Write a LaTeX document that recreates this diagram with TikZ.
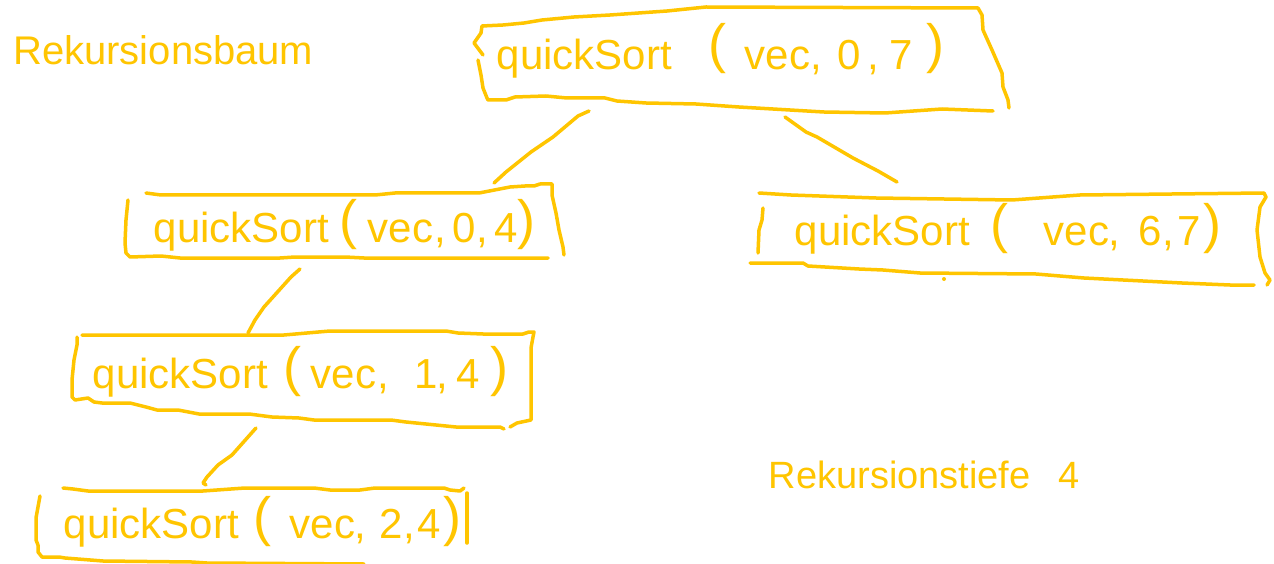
\documentclass[tikz,border=0pt]{standalone}
\usepackage{fontspec}
\setmainfont{Liberation Sans}
\definecolor{pen}{RGB}{255,197,0}
\newcommand\tk[2]{\makebox[0pt][l]{\hspace{#1pt}#2}}
\newcommand\pn[2]{\raisebox{#1pt}{\fontsize{54}{60}\selectfont #2}}
\begin{document}
\begin{tikzpicture}[x=1pt,y=-1pt,
  ink/.style={draw=pen, line width=3.5pt, line cap=round, line join=round},
  call/.style={text=pen, anchor=base west, inner sep=0pt, font=\fontsize{42}{50}\selectfont},
  lbl/.style={text=pen, anchor=base west, inner sep=0pt, font=\fontsize{40}{48}\selectfont},
  lbltwo/.style={text=pen, anchor=base west, inner sep=0pt, font=\fontsize{38}{46}\selectfont}]
\useasboundingbox (0,0) rectangle (1274,564);
\fill[white] (0,0) rectangle (1274,564);

% labels
\node[lbl] (title) at (13,65) {Rekursionsbaum};
\node[lbltwo] (depth) at (768,488) {\tk{0}{Rekursionstiefe}\tk{290}{4}\hspace{314pt}};

% texts
\node[call] (root) at (496,70) {\tk{0}{quickSort}\tk{212}{\pn{7}{(}}\tk{248}{vec}\tk{314}{,}\tk{341}{0}\tk{371}{,}\tk{393}{7}\tk{430}{\pn{7}{)}}\hspace{446pt}};
\node[call] (lone) at (153,242) {\tk{0}{quickSort}\tk{186}{\pn{3}{(}}\tk{214}{vec}\tk{281}{,}\tk{299}{0}\tk{323}{,}\tk{341}{4}\tk{364}{\pn{3}{)}}\hspace{381pt}};
\node[call] (ltwo) at (92,388) {\tk{0}{quickSort}\tk{191}{\pn{3}{(}}\tk{218}{vec}\tk{285}{,}\tk{322}{1}\tk{344}{,}\tk{364}{4}\tk{398}{\pn{3}{)}}\hspace{414pt}};
\node[call] (lthree) at (63,538) {\tk{0}{quickSort}\tk{190}{\pn{3}{(}}\tk{226}{vec}\tk{291}{,}\tk{316}{2}\tk{340}{,}\tk{354}{4}\tk{380}{\pn{3}{)}}\hspace{396pt}};
\node[call] (rone) at (794,245) {\tk{0}{quickSort}\tk{196}{\pn{3}{(}}\tk{249}{vec}\tk{314}{,}\tk{344}{6}\tk{368}{,}\tk{383}{7}\tk{409}{\pn{3}{)}}\hspace{432pt}};

% root box
\draw[ink] (483,55) -- (474,43) -- (481,33) -- (482,26) -- (503,25) -- (524,23) -- (542,20) -- (574,17) -- (610,15) -- (667,11) -- (706,7) -- (978,8) -- (982,15) -- (983,30) -- (992,50) -- (1002,73) -- (1003,87) -- (1008,100) -- (1009,108);
\draw[ink] (478,60) -- (481,75) -- (483,88) -- (487,98) -- (488,100) -- (506,100) -- (515,97) -- (546,96) -- (567,98) -- (605,98) -- (617,101) -- (646,103) -- (696,104) -- (739,107) -- (824,112) -- (885,113) -- (942,109) -- (993,111);

% left level 1 box
\draw[ink] (128,200) -- (126,220) -- (125,243) -- (126,253) -- (130,257) -- (161,256) -- (180,258) -- (280,258) -- (295,257) -- (345,257) -- (364,258) -- (548,258);
\draw[ink] (146,193) -- (161,195) -- (375,195) -- (395,193) -- (479,193) -- (510,187) -- (525,186) -- (534,186) -- (540,184) -- (552,184) -- (552,195) -- (556,213) -- (559,230) -- (563,247) -- (564,255);

% left level 2 box
\draw[ink] (82,335) -- (284,335) -- (330,331) -- (446,331) -- (458,333) -- (483,334) -- (523,334) -- (529,332) -- (534,332) -- (533,337) -- (531,348) -- (531,420) -- (517,423) -- (510,427);
\draw[ink] (77,337) -- (77,345) -- (74,360) -- (72,380) -- (72,397) -- (75,400) -- (88,398) -- (94,402) -- (102,403) -- (130,403) -- (146,407) -- (157,410) -- (178,410) -- (199,414) -- (249,414) -- (272,417) -- (299,418) -- (314,420) -- (391,420) -- (406,422) -- (456,427) -- (500,427) -- (504,429);

% left level 3 box
\draw[ink] (63,488) -- (73,489) -- (88,491) -- (203,491) -- (245,488) -- (314,488) -- (330,490) -- (360,490) -- (375,488) -- (444,488) -- (450,490) -- (460,491) -- (464,488);
\draw[ink] (467,493) -- (467,543);
\draw[ink] (40,496) -- (36,518) -- (36,540) -- (38,545) -- (38,552) -- (42,557) -- (59,557) -- (65,558) -- (103,561) -- (192,562) -- (207,563) -- (364,564);

% right level 1 box
\draw[ink] (759,193) -- (791,195) -- (876,198) -- (1012,200) -- (1080,195) -- (1264,193) -- (1266,197) -- (1260,207) -- (1257,230) -- (1260,257) -- (1265,273) -- (1270,280) -- (1267,285);
\draw[ink] (763,208) -- (762,220) -- (759,230) -- (758,253);
\draw[ink] (750,263) -- (803,263) -- (808,266) -- (859,269) -- (883,270) -- (920,273) -- (1036,274) -- (1084,278) -- (1182,283) -- (1230,285) -- (1254,285);
\fill[pen] (944,279) circle (2);

% connectors
\coordinate (ra) at (589,111); \coordinate (rb) at (494,183);
\coordinate (rc) at (785,117); \coordinate (rd) at (897,182);
\coordinate (la) at (300,269); \coordinate (lb) at (248,333);
\coordinate (lc) at (256,428); \coordinate (ld) at (206,485);
\draw[ink] (ra) -- (578,116) -- (553,137) -- (531,152) -- (506,172) -- (rb);
\draw[ink] (rc) -- (806,132) -- (817,137) -- (853,158) -- (878,171) -- (rd);
\draw[ink] (la) -- (291,277) -- (264,307) -- (255,320) -- (lb);
\draw[ink] (lc) -- (232,455) -- (218,465) -- (207,477) -- (203,483) -- (ld);
\end{tikzpicture}
\end{document}
